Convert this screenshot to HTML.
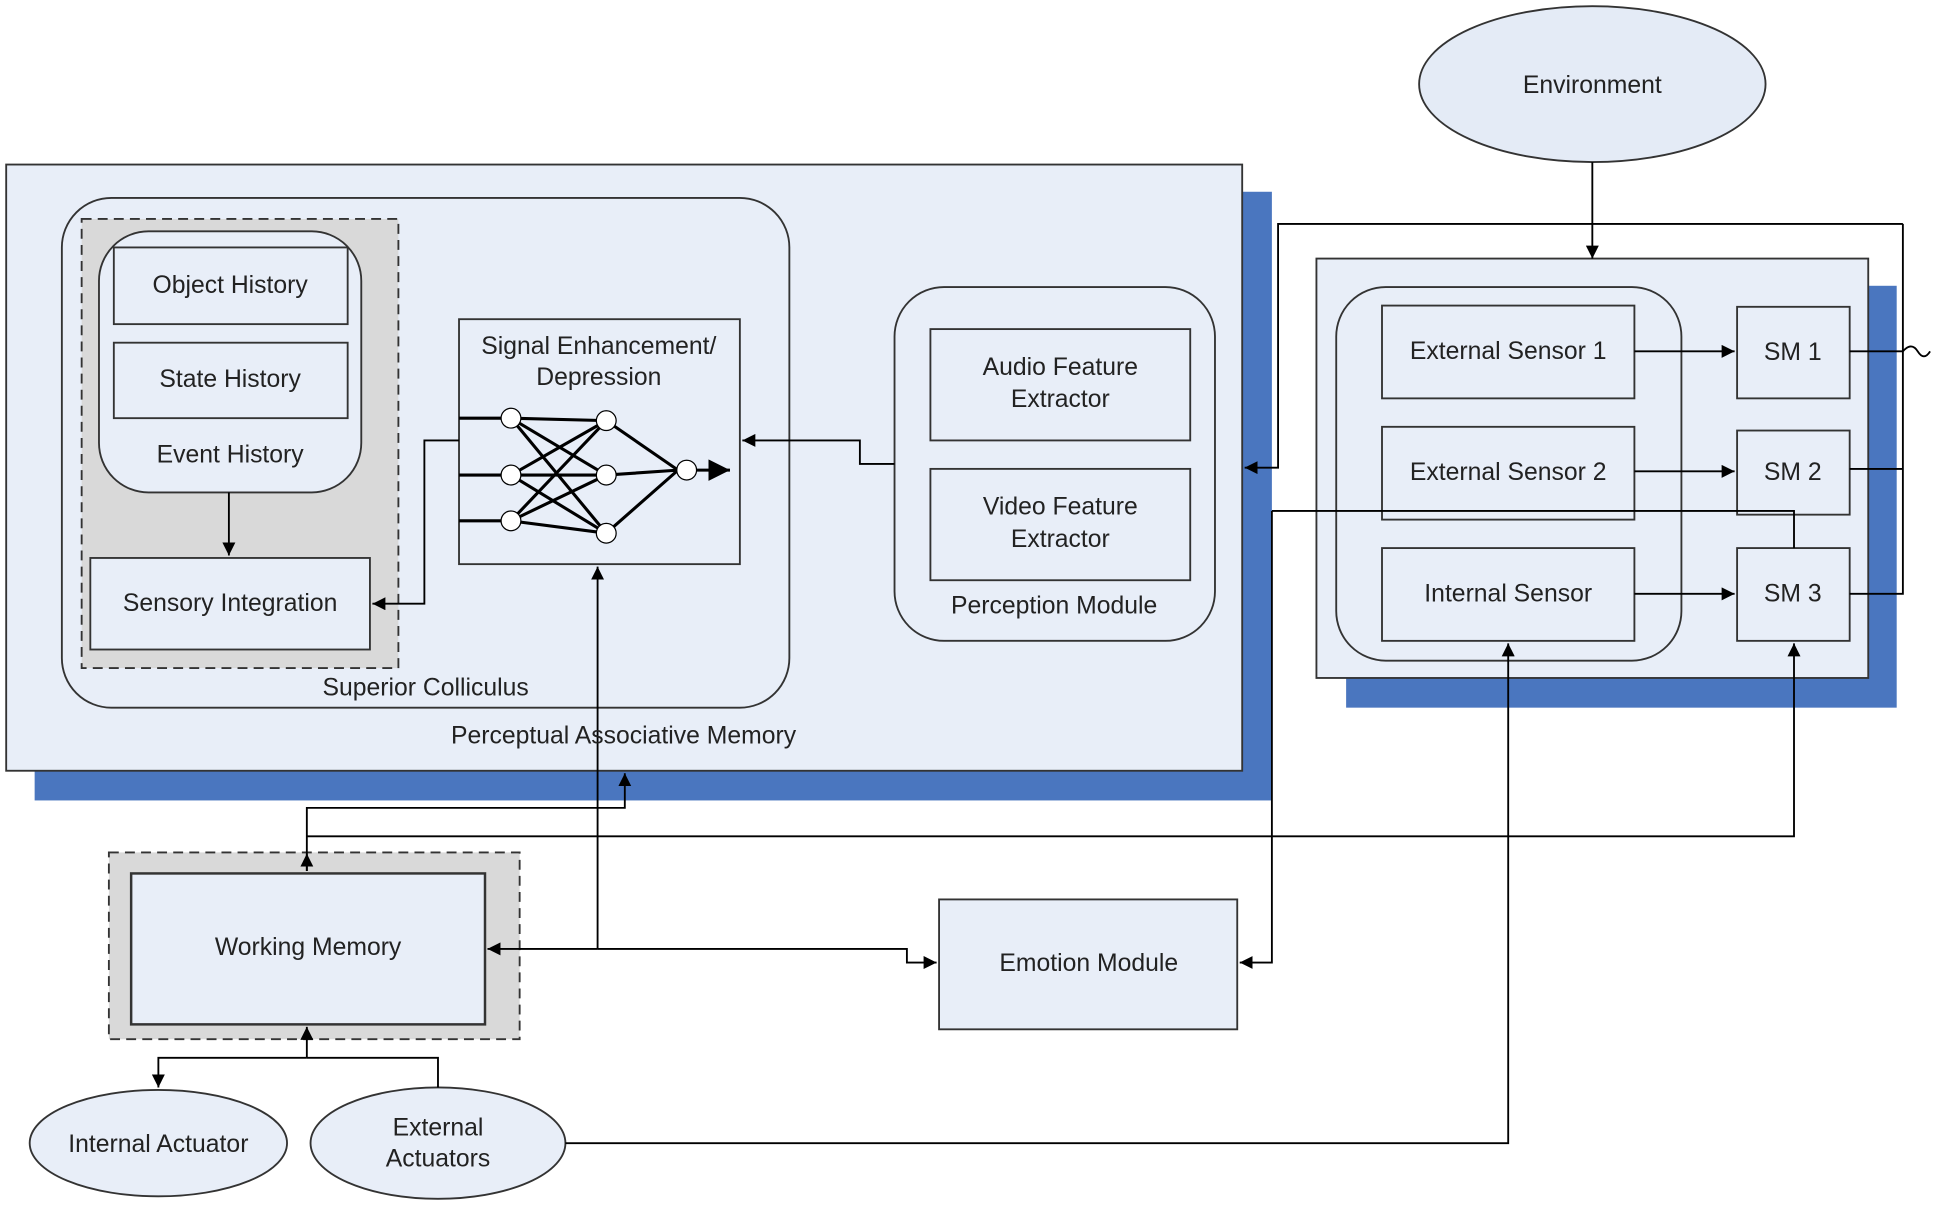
<!DOCTYPE html>
<html><head><meta charset="utf-8"><style>
html,body{margin:0;padding:0;background:#fff;}
svg{display:block;}
text{font-family:"Liberation Sans",Arial,sans-serif;font-size:20px;fill:#222;text-anchor:middle;}
</style></head><body>
<svg width="1940" height="1205" viewBox="0 0 1568 974" preserveAspectRatio="none" xmlns="http://www.w3.org/2000/svg">
<defs>
<marker id="a" viewBox="0 0 10 10" refX="10" refY="5" markerWidth="7" markerHeight="7" orient="auto"><path d="M0,0L10,5L0,10z" fill="#000"/></marker>
</defs>
<g stroke="#333" stroke-width="1.5">
<ellipse cx="1287" cy="68" rx="140" ry="63" fill="#e4ebf6"/>
<rect x="28" y="155" width="1000" height="492" fill="#4a76bf" stroke="none"/>
<rect x="5" y="133" width="999" height="490" fill="#e8eef8"/>
<rect x="50" y="160" width="588" height="412" rx="40" fill="#e8eef8"/>
<rect x="66" y="177" width="256" height="363" fill="#d9d9d9" stroke-dasharray="8,5"/>
<rect x="80" y="187" width="212" height="211" rx="40" fill="#e8eef8"/>
<rect x="92" y="200" width="189" height="62" fill="#e8eef8"/>
<rect x="92" y="277" width="189" height="61" fill="#e8eef8"/>
<rect x="73" y="451" width="226" height="74" fill="#e8eef8"/>
<rect x="371" y="258" width="227" height="198" fill="#e8eef8"/>
<rect x="723" y="232" width="259" height="286" rx="40" fill="#e8eef8"/>
<rect x="752" y="266" width="210" height="90" fill="#e8eef8"/>
<rect x="752" y="379" width="210" height="90" fill="#e8eef8"/>
<rect x="1088" y="231" width="445" height="341" fill="#4a76bf" stroke="none"/>
<rect x="1064" y="209" width="446" height="339" fill="#e8eef8"/>
<rect x="1080" y="232" width="279" height="302" rx="40" fill="#e8eef8"/>
<rect x="1117" y="247" width="204" height="75" fill="#e8eef8"/>
<rect x="1117" y="345" width="204" height="75" fill="#e8eef8"/>
<rect x="1117" y="443" width="204" height="75" fill="#e8eef8"/>
<rect x="1404" y="248" width="91" height="74" fill="#e8eef8"/>
<rect x="1404" y="348" width="91" height="68" fill="#e8eef8"/>
<rect x="1404" y="443" width="91" height="75" fill="#e8eef8"/>
<rect x="88" y="689" width="332" height="151" fill="#d9d9d9" stroke-dasharray="8,5"/>
<rect x="106" y="706" width="286" height="122" fill="#e8eef8" stroke-width="2"/>
<rect x="759" y="727" width="241" height="105" fill="#e8eef8"/>
<ellipse cx="128" cy="924" rx="104" ry="43" fill="#e8eef8"/>
<ellipse cx="354" cy="924" rx="103" ry="45" fill="#e8eef8"/>
</g>
<g fill="none" stroke="#000" stroke-width="1.5">
<path d="M1287,131V209" marker-end="url(#a)"/>
<path d="M1538,181H1033V378H1006" marker-end="url(#a)"/>
<path d="M1538,181V480H1495M1495,284H1538Q1545,276 1550,284T1560,284M1495,379H1538"/>
<path d="M1028,413H1450V443M1028,413V778H1002" marker-end="url(#a)"/>
<path d="M723,375H695V356H600" marker-end="url(#a)"/>
<path d="M371,356H343V488H301" marker-end="url(#a)"/>
<path d="M185,398V449" marker-end="url(#a)"/>
<path d="M483,767V458" marker-end="url(#a)"/>
<path d="M483,767H394" marker-end="url(#a)"/>
<path d="M483,767H733V778H757" marker-end="url(#a)"/>
<path d="M248,704V653H505V625" marker-end="url(#a)"/>
<path d="M248,676H1450V520" marker-end="url(#a)"/>
<path d="M248,704V690" marker-end="url(#a)"/>
<path d="M248,855V830" marker-end="url(#a)"/>
<path d="M248,855H128V879" marker-end="url(#a)"/>
<path d="M248,855H354V879"/>
<path d="M457,924H1219V520" marker-end="url(#a)"/>
<path d="M1321,284H1402" marker-end="url(#a)"/>
<path d="M1321,381H1402" marker-end="url(#a)"/>
<path d="M1321,480H1402" marker-end="url(#a)"/>
</g>
<g stroke="#000" stroke-width="2.5" fill="none">
<path d="M371,338H405M371,384H405M371,421H405"/>
<path d="M413,338L490,340M413,338L490,384M413,338L490,431M413,384L490,340M413,384L490,384M413,384L490,431M413,421L490,340M413,421L490,384M413,421L490,431"/>
<path d="M490,340L548,380M490,384L548,380M490,431L548,380M555,380H590" marker-end="url(#a)"/>
</g>
<g fill="#fff" stroke="#000">
<circle cx="413" cy="338" r="8"/><circle cx="413" cy="384" r="8"/><circle cx="413" cy="421" r="8"/>
<circle cx="490" cy="340" r="8"/><circle cx="490" cy="384" r="8"/><circle cx="490" cy="431" r="8"/>
<circle cx="555" cy="380" r="8"/>
</g>
<text x="1287" y="75">Environment</text>
<text x="186" y="237">Object History</text>
<text x="186" y="313">State History</text>
<text x="186" y="374">Event History</text>
<text x="186" y="494">Sensory Integration</text>
<text x="344" y="562">Superior Colliculus</text>
<text x="504" y="601">Perceptual Associative Memory</text>
<text x="484" y="286">Signal Enhancement/</text>
<text x="484" y="311">Depression</text>
<text x="857" y="303">Audio Feature</text>
<text x="857" y="329">Extractor</text>
<text x="857" y="416">Video Feature</text>
<text x="857" y="442">Extractor</text>
<text x="852" y="496">Perception Module</text>
<text x="1219" y="290">External Sensor 1</text>
<text x="1219" y="388">External Sensor 2</text>
<text x="1219" y="486">Internal Sensor</text>
<text x="1449" y="291">SM 1</text>
<text x="1449" y="388">SM 2</text>
<text x="1449" y="486">SM 3</text>
<text x="249" y="772">Working Memory</text>
<text x="880" y="785">Emotion Module</text>
<text x="128" y="931">Internal Actuator</text>
<text x="354" y="918">External</text>
<text x="354" y="943">Actuators</text>
</svg>
</body></html>
